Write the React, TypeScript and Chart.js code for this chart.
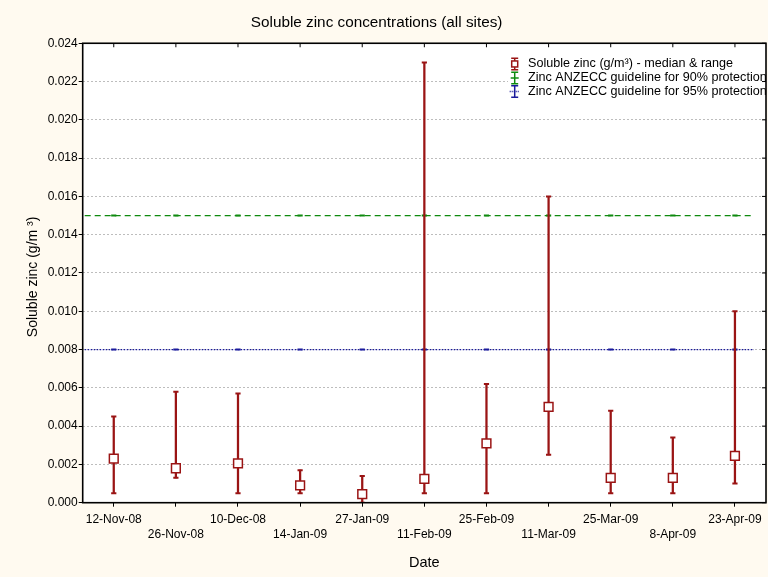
import React, { useEffect, useRef } from 'react';
import { Chart, registerables } from 'chart.js';

Chart.register(...registerables);

const dates = ['12-Nov-08', '26-Nov-08', '10-Dec-08', '14-Jan-09', '27-Jan-09', '11-Feb-09', '25-Feb-09', '11-Mar-09', '25-Mar-09', '8-Apr-09', '23-Apr-09'];
const medians = [0.0023, 0.0018, 0.00205, 0.0009, 0.00045, 0.00125, 0.0031, 0.005, 0.0013, 0.0013, 0.00245];
const mins = [0.0005, 0.0013, 0.0005, 0.0005, 0.0, 0.0005, 0.0005, 0.0025, 0.0005, 0.0005, 0.001];
const maxs = [0.0045, 0.0058, 0.0057, 0.0017, 0.0014, 0.023, 0.0062, 0.016, 0.0048, 0.0034, 0.010];
const guideline90 = dates.map(() => 0.015);
const guideline95 = dates.map(() => 0.008);
const yMin = 0;
const yMax = 0.024;
const yStep = 0.002;
const legendLabels = [
  'Soluble zinc (g/m³) - median & range',
  'Zinc ANZECC guideline for 90% protection',
  'Zinc ANZECC guideline for 95% protection',
];
const titleText = 'Soluble zinc concentrations (all sites)   ';
const xTitle = 'Date';
const yTitle = 'Soluble zinc (g/m ³)  ';

const RED = '#9a1414';
const GREEN = '#0f8a0f';
const BLUE = '#1a1a9c';
const BG = '#FFFAF0';
const FONT = '"Liberation Sans", Arial, sans-serif';

const framePlugin = {
  id: 'framePlugin',
  beforeDraw(chart: any) {
    const { ctx, chartArea: a, width, height } = chart;
    ctx.save();
    ctx.fillStyle = BG;
    ctx.fillRect(0, 0, width, height);
    ctx.fillStyle = '#ffffff';
    ctx.fillRect(a.left, a.top, a.right - a.left, a.bottom - a.top);
    ctx.restore();
  },
  beforeDatasetsDraw(chart: any) {
    const { ctx, chartArea: a } = chart;
    const ys = chart.scales.y;
    ctx.save();
    const g = [
      { v: guideline90[0], c: GREEN, d: [6, 4], w: 1.3 },
      { v: guideline95[0], c: BLUE, d: [1.5, 1.5], w: 1.3 },
    ];
    g.forEach((l) => {
      const y = ys.getPixelForValue(l.v);
      ctx.strokeStyle = l.c;
      ctx.lineWidth = l.w;
      ctx.setLineDash(l.d);
      ctx.beginPath();
      ctx.moveTo(a.left + 2, y);
      ctx.lineTo(a.right - 12, y);
      ctx.stroke();
    });
    ctx.restore();
  },
  afterDraw(chart: any) {
    const { ctx, chartArea: a } = chart;
    const xs = chart.scales.x;
    const ys = chart.scales.y;
    ctx.save();
    ctx.beginPath();
    ctx.rect(a.left, a.top, a.right - a.left, a.bottom - a.top);
    ctx.clip();
    const lx = a.right - 258;
    const ly = a.top + 11;
    ctx.fillStyle = '#ffffff';
    ctx.fillRect(lx, ly, a.right - lx, 47);
    const symX = a.right - 251.3;
    const textX = a.right - 238;
    const rows = [a.top + 20.7, a.top + 34.7, a.top + 48.3];
    const colors = [RED, GREEN, BLUE];
    rows.forEach((ry, i) => {
      const c = colors[i];
      ctx.strokeStyle = c;
      ctx.lineWidth = 1.5;
      ctx.setLineDash([]);
      ctx.beginPath();
      ctx.moveTo(symX - 3.5, ry - 5.7); ctx.lineTo(symX + 3.5, ry - 5.7);
      ctx.moveTo(symX - 3.5, ry + 5.7); ctx.lineTo(symX + 3.5, ry + 5.7);
      ctx.moveTo(symX, ry - 5.7); ctx.lineTo(symX, ry + 5.7);
      ctx.stroke();
      if (i === 0) {
        ctx.fillStyle = '#fff';
        ctx.fillRect(symX - 3, ry - 3, 6, 6);
        ctx.strokeRect(symX - 3, ry - 3, 6, 6);
      } else if (i === 1) {
        ctx.beginPath();
        ctx.moveTo(symX - 4, ry); ctx.lineTo(symX + 4, ry);
        ctx.stroke();
      } else {
        ctx.setLineDash([1, 1]);
        ctx.beginPath();
        ctx.moveTo(symX - 5, ry); ctx.lineTo(symX + 5, ry);
        ctx.stroke();
        ctx.setLineDash([]);
      }
      ctx.fillStyle = '#000';
      ctx.font = '12.6px ' + FONT;
      ctx.textBaseline = 'middle';
      ctx.textAlign = 'left';
      ctx.fillText(legendLabels[i], textX, ry);
    });
    ctx.restore();

    ctx.save();
    ctx.strokeStyle = '#000';
    ctx.lineWidth = 1;
    ctx.beginPath();
    dates.forEach((_, i) => {
      const x = xs.getPixelForValue(i);
      ctx.moveTo(x, a.top);
      ctx.lineTo(x, a.top + 4);
    });
    ys.ticks.forEach((t: any) => {
      const y = ys.getPixelForValue(t.value);
      ctx.moveTo(a.right, y);
      ctx.lineTo(a.right - 4, y);
    });
    ctx.stroke();
    ctx.lineWidth = 1.6;
    ctx.strokeRect(a.left, a.top, a.right - a.left, a.bottom - a.top);
    ctx.restore();
  },
};

export default function App() {
  const ref = useRef<HTMLCanvasElement | null>(null);
  useEffect(() => {
    if (!ref.current) return;
    Chart.defaults.font.family = FONT;
    Chart.defaults.color = '#000';
    const chart = new Chart(ref.current, {
      type: 'bar',
      data: {
        labels: dates,
        datasets: [
          {
            type: 'line',
            label: 'median',
            data: medians,
            showLine: false,
            pointStyle: 'rect',
            pointRadius: 6.2,
            pointBackgroundColor: '#ffffff',
            pointBorderColor: RED,
            pointBorderWidth: 1.5,
            order: 0,
          } as any,
          {
            type: 'line',
            label: 'max',
            data: maxs,
            showLine: false,
            pointStyle: 'line',
            pointRadius: 2.6,
            pointBorderColor: RED,
            pointBorderWidth: 2,
            order: 1,
          } as any,
          {
            type: 'line',
            label: 'min',
            data: mins,
            showLine: false,
            pointStyle: 'line',
            pointRadius: 2.6,
            pointBorderColor: RED,
            pointBorderWidth: 2,
            order: 1,
          } as any,
          {
            type: 'bar',
            label: 'range',
            data: mins.map((m, i) => [m, maxs[i]]),
            backgroundColor: RED,
            borderWidth: 0,
            barThickness: 1.6,
            grouped: false,
            order: 2,
          } as any,
          {
            type: 'line',
            label: '90',
            data: guideline90,
            showLine: false,
            pointStyle: 'line',
            pointRadius: 2.6,
            pointBorderColor: GREEN,
            pointBorderWidth: 2,
            order: 3,
          } as any,
          {
            type: 'line',
            label: '95',
            data: guideline95,
            showLine: false,
            pointStyle: 'line',
            pointRadius: 2.6,
            pointBorderColor: BLUE,
            pointBorderWidth: 2,
            order: 3,
          } as any,
        ],
      },
      options: {
        animation: false,
        responsive: false,
        maintainAspectRatio: false,
        layout: { autoPadding: false, padding: { left: 0, right: 2, top: 0, bottom: 0 } },
        plugins: {
          legend: { display: false },
          tooltip: { enabled: false },
          title: {
            display: true,
            text: titleText,
            font: { size: 15.3, weight: 'normal', lineHeight: 1.2 },
            color: '#000',
            padding: { top: 13.5, bottom: 11.4 },
          },
        },
        scales: {
          x: {
            type: 'category',
            offset: true,
            grid: {
              display: true,
              drawOnChartArea: false,
              drawTicks: true,
              tickLength: 4,
              tickColor: '#000',
              offset: false,
            },
            border: { display: false },
            ticks: {
              autoSkip: false,
              maxRotation: 0,
              minRotation: 0,
              padding: 5,
              font: { size: 12, lineHeight: 1.25 },
              color: '#000',
              callback: (v: any, i: number) => (i % 2 === 1 ? ['', dates[i]] : dates[i]),
            },
            title: {
              display: true,
              text: xTitle,
              font: { size: 14.5, lineHeight: 1.2 },
              color: '#000',
              padding: { top: 0, bottom: 5.2 },
            },
            afterFit: (s: any) => { s.height = 74.3; },
          },
          y: {
            type: 'linear',
            min: yMin,
            max: yMax,
            grid: {
              color: '#bdbdbd',
              lineWidth: 1,
              tickColor: '#000',
              tickLength: 4,
              drawTicks: true,
            },
            border: { display: false, dash: [2, 2] },
            ticks: {
              stepSize: yStep,
              padding: 1,
              font: { size: 12 },
              color: '#000',
              callback: (v: any) => Number(v).toFixed(3),
            },
            title: {
              display: true,
              text: yTitle,
              font: { size: 14, lineHeight: 1.2 },
              color: '#000',
              padding: { top: 24.6, bottom: 0 },
            },
            afterFit: (s: any) => { s.width = 82.7; },
          },
        },
      },
      plugins: [framePlugin],
    } as any);
    return () => chart.destroy();
  }, []);
  return (
    <div style={{ position: 'fixed', left: 0, top: 0, width: 768, height: 577 }}>
      <canvas ref={ref} width={768} height={577} style={{ width: 768, height: 577, display: 'block' }} />
    </div>
  );
}
